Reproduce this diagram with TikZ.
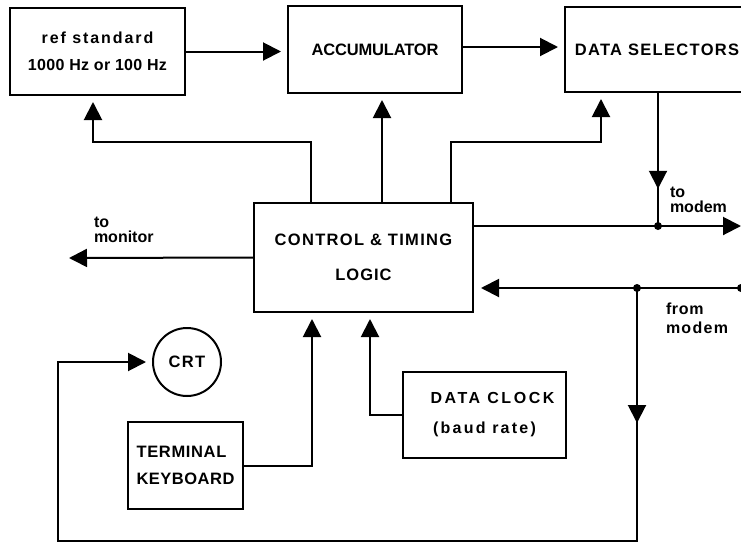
\documentclass[tikz,border=0pt]{standalone}
\usepackage{fontspec}
\setmainfont{Liberation Sans}
\usetikzlibrary{arrows.meta,decorations.markings}
\newcommand\lsp[1]{\addfontfeature{LetterSpace=#1}}
\begin{document}
\begin{tikzpicture}[x=1pt,y=-1pt,line width=2pt,
  blk/.style={draw,rectangle,inner sep=0pt,align=center},
  caps/.style={font=\bfseries\fontsize{16.5}{35}\selectfont},
  lows/.style={font=\bfseries\fontsize{16}{27}\selectfont},
  note/.style={font=\bfseries\fontsize{16}{15}\selectfont,align=left,inner sep=0pt,anchor=west},
  tip/.style={-{Triangle[length=18pt,width=18pt]}},
  arr/.style={tip,shorten >=6pt},
  midarrow/.style={postaction={decorate},decoration={markings,mark=at position #1 with {\arrow{Triangle[length=18pt,width=18pt]}}}},
  junction/.style={circle,fill,inner sep=0pt,minimum size=8pt}
]
\useasboundingbox (0,0) rectangle (741,544);
% blocks
\node[blk,lows,minimum width=175pt,minimum height=87pt] (ref) at (97.5,51.5)
  {\lsp{12}ref standard\\\lsp{2}1000 Hz or 100 Hz};
\node[blk,caps,minimum width=174pt,minimum height=87pt] (acc) at (375,49.5) {\lsp{-1}ACCUMULATOR};
\node[blk,caps,minimum width=184pt,minimum height=85pt] (ds) at (657,49.5) {\lsp{8}DATA SELECTORS};
\node[blk,caps,minimum width=219pt,minimum height=109pt] (ctrl) at (363.5,257.5)
  {\lsp{8}CONTROL \& TIMING\\\lsp{6}LOGIC};
\node[draw,circle,caps,minimum size=68pt,inner sep=0pt] (crt) at (187,362) {\lsp{8}CRT};
\node[draw,rectangle,inner sep=0pt,minimum width=115pt,minimum height=87pt,align=left,
      font=\bfseries\fontsize{16.5}{27}\selectfont] (kbd) at (185.5,465.5)
  {\lsp{4}TERMINAL\\\lsp{3}KEYBOARD};
\node[blk,minimum width=163pt,minimum height=86pt,font=\bfseries\fontsize{16}{30}\selectfont] (clk) at (484.5,415)
  {\hspace*{16pt}\lsp{16}DATA CLOCK\\\lsp{14}(baud rate)};
% bend points and free ends
\coordinate (b1) at (93,142);
\coordinate (b2) at (601,142);
\coordinate (mon) at (69,258);
\coordinate (outR) at (741,226);
\coordinate (inR) at (741,288);
\coordinate (bl) at (58,541);
\node[junction] (j1) at (658,226) {};
\node[junction] (j2) at (637,288) {};
\node[junction] (j3) at (inR) {};
% connectors
\draw[arr] (ref.east) -- (ref.east -| acc.west);
\draw[arr] (acc.east |- 0,47) -- (ds.west |- 0,47);
\draw[arr] ([xshift=-52.5pt]ctrl.north) |- (b1) -- (b1 |- ref.south);
\draw[arr] ([xshift=18.5pt]ctrl.north) -- ([xshift=18.5pt]ctrl.north |- acc.south);
\draw[arr] ([xshift=87.5pt]ctrl.north) |- (b2) -- (b2 |- ds.south);
\draw[midarrow=0.72] (ds.south -| j1) -- (j1.center);
\draw[tip] ([yshift=31.5pt]ctrl.east) -- (outR);
\draw[arr,shorten >=7pt] (inR) -- ([yshift=-30.5pt]ctrl.east);
\draw[arr,midarrow=135pt] (j2.center) |- (bl) |- (crt.west);
\draw[arr] (kbd.east) -| ([xshift=-51.5pt]ctrl.south);
\draw[arr] (clk.west) -| ([xshift=6.5pt]ctrl.south);
\draw[tip] (ctrl.west) -- (mon);
% notes
\node[note] (nmon) at (93,229.5) {to\\monitor};
\node[note] (nto) at (669,199.5) {to\\modem};
\node[note,font=\bfseries\fontsize{16}{19}\selectfont] (nfrom) at (665,318.5) {\lsp{4}from\\\lsp{8}modem};
\end{tikzpicture}
\end{document}
